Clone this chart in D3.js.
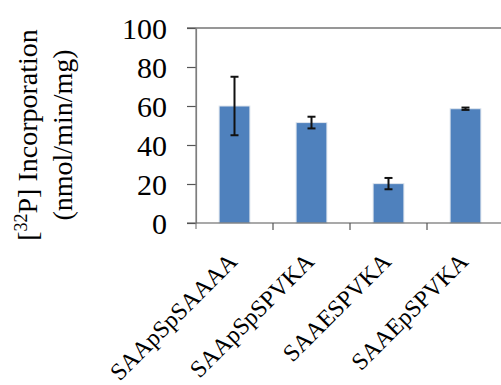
<!DOCTYPE html>
<html>
<head>
<meta charset="utf-8">
<script src="https://cdn.jsdelivr.net/npm/d3@7"></script>
<style>
  html, body { margin: 0; padding: 0; background: #fff; }
  svg { display: block; }
  text { font-family: "Liberation Serif", "Times New Roman", serif; fill: #000; }
</style>
</head>
<body>
<svg id="chart" width="501" height="385"></svg>
<script>
// Peptide substrates and measured phosphate incorporation
const peptides = ["SAApSpSAAAA", "SAApSpSPVKA", "SAAESPVKA", "SAAEpSPVKA"];
const incorporation = [60, 51.5, 20.2, 58.6];
const errors = [15, 3, 2.9, 0.6];
const yTicks = [0, 20, 40, 60, 80, 100];

const svg = d3.select("#chart");
const plotLeft = 196, plotRight = 504, plotTop = 28, plotBottom = 223;

const x = d3.scaleBand().domain(peptides).range([plotLeft, plotRight]).paddingInner(0.6).paddingOuter(0.3);
const xEdge = d3.scaleLinear().domain([0, peptides.length]).range([plotLeft, plotRight]);
const y = d3.scaleLinear().domain([0, 100]).range([plotBottom, plotTop]);

// frame line along the top of the plot
svg.append("line")
  .attr("x1", plotLeft - 9).attr("x2", 501)
  .attr("y1", y(100)).attr("y2", y(100))
  .attr("stroke", "#303030").attr("stroke-width", 1.2);

// y axis
const yAxis = svg.append("g")
  .attr("transform", `translate(${plotLeft},0)`)
  .call(d3.axisLeft(y).tickValues(yTicks).tickSize(9).tickPadding(20).tickSizeOuter(0));
yAxis.select(".domain").attr("stroke", "#7f7f7f").attr("stroke-width", 1.2);
yAxis.selectAll(".tick line").attr("stroke", "#555").attr("stroke-width", 1.2);
yAxis.selectAll(".tick text")
  .attr("font-size", 30).attr("font-family", "Liberation Serif").attr("fill", "#000")
  .attr("dy", "0.36em");

// bars
svg.append("g").selectAll("rect")
  .data(peptides)
  .join("rect")
  .attr("x", d => x(d))
  .attr("width", x.bandwidth())
  .attr("y", (d, i) => y(incorporation[i]))
  .attr("height", (d, i) => y(0) - y(incorporation[i]))
  .attr("fill", "#4f81bd")
  .attr("stroke", "#dfe6ee").attr("stroke-width", 1);

// x axis with category boundary ticks
svg.append("line")
  .attr("x1", plotLeft - 9).attr("x2", 501)
  .attr("y1", y(0)).attr("y2", y(0))
  .attr("stroke", "#555").attr("stroke-width", 1.2);
svg.append("line")
  .attr("x1", plotLeft).attr("x2", plotLeft)
  .attr("y1", y(100)).attr("y2", y(0) + 6)
  .attr("stroke", "#7f7f7f").attr("stroke-width", 1.2);
svg.append("g").selectAll("line")
  .data(d3.range(1, peptides.length))
  .join("line")
  .attr("x1", d => xEdge(d)).attr("x2", d => xEdge(d))
  .attr("y1", y(0)).attr("y2", y(0) + 7)
  .attr("stroke", "#555").attr("stroke-width", 1.2);

// error bars
const eb = svg.append("g").attr("stroke", "#111").attr("stroke-width", 2);
peptides.forEach((p, i) => {
  const cx = x(p) + x.bandwidth() / 2;
  const hi = y(incorporation[i] + errors[i]);
  const lo = y(incorporation[i] - errors[i]);
  eb.append("line").attr("x1", cx).attr("x2", cx).attr("y1", hi).attr("y2", lo);
  eb.append("line").attr("x1", cx - 4).attr("x2", cx + 4).attr("y1", hi).attr("y2", hi);
  eb.append("line").attr("x1", cx - 4).attr("x2", cx + 4).attr("y1", lo).attr("y2", lo);
});

// rotated category labels
svg.append("g").selectAll("text")
  .data(peptides)
  .join("text")
  .attr("transform", d => `translate(${x(d) + x.bandwidth() / 2 + 4},263) rotate(-45)`)
  .attr("text-anchor", "end")
  .attr("font-size", 24)
  .text(d => d);

// y axis title
const title = svg.append("text")
  .attr("transform", "translate(37,135) rotate(-90)")
  .attr("text-anchor", "middle")
  .attr("font-size", 28);
title.append("tspan").text("[");
title.append("tspan").text("32").attr("font-size", 18).attr("dy", -10);
title.append("tspan").text("P] Incorporation").attr("dy", 10);
svg.append("text")
  .attr("transform", "translate(72,135) rotate(-90)")
  .attr("text-anchor", "middle")
  .attr("font-size", 28)
  .text("(nmol/min/mg)");
</script>
</body>
</html>
